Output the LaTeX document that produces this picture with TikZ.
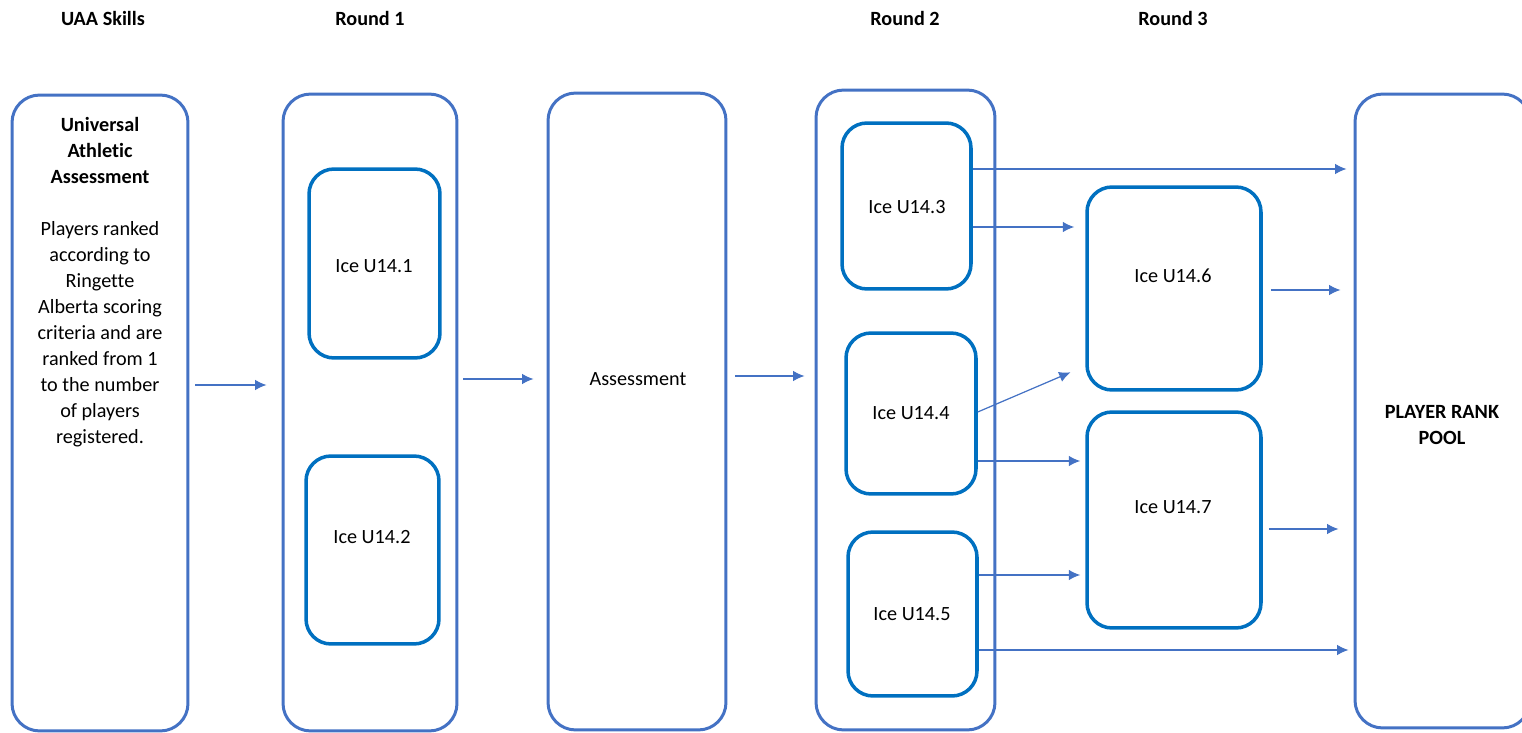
\documentclass[tikz,border=0pt]{standalone}
\usepackage{fontspec}
\setmainfont{Carlito}[Ligatures=CommonOff]
\usetikzlibrary{arrows.meta}
\usetikzlibrary{positioning}
\usetikzlibrary{calc}

\definecolor{stageblue}{HTML}{4472C4}
\definecolor{iceblue}{HTML}{0070C0}

\begin{document}
\begin{tikzpicture}[
      x = 0.02cm, y = -0.02cm,
      >={Latex[length=6.5pt, width=6pt]},
      font = \fontsize{11.5}{14.8}\selectfont,
      stage/.style = {
        rectangle, draw = stageblue, line width = 1.7pt,
        rounded corners = 0.55cm, inner sep = 0
      },
      ice/.style = {
        rectangle, draw = iceblue, line width = 2pt,
        rounded corners = 0.5cm, inner sep = 0
      },
      flow/.style = { draw = stageblue, line width = 0.7pt, -> },
      heading/.style = { font = \fontsize{11.5}{14.8}\selectfont\bfseries },
    ]

    \useasboundingbox (0,0) rectangle (1522,733);

    %% column headings
    \node[heading] (h0) at (103,18) {UAA Skills};
    \node[heading] (h1) at (370,18) {Round 1};
    \node[heading] (h2) at (905,18) {Round 2};
    \node[heading] (h3) at (1173,18) {Round 3};

    %% large stages
    \node[stage, minimum width = 3.52cm, minimum height = 12.72cm] (uaa) at (100,413) {};
    \node[stage, minimum width = 3.48cm, minimum height = 12.74cm] (round1) at (370,412.5) {};
    \node[stage, minimum width = 3.56cm, minimum height = 12.74cm] (assess) at (637,411.5) {};
    \node[stage, minimum width = 3.58cm, minimum height = 12.80cm] (round2) at (905.5,410) {};
    \node[stage, minimum width = 3.50cm, minimum height = 12.68cm] (pool) at (1442.5,411) {};

    \node[align = center, anchor = north] (uaatext) at (100,111) {
      \textbf{Universal}\\ \textbf{Athletic}\\ \textbf{Assessment}\\[14.8pt]
      Players ranked\\ according to\\ Ringette\\ Alberta scoring\\
      criteria and are\\ ranked from 1\\ to the number\\ of players\\ registered.};
    \node (assesstext) at (638,379) {Assessment};
    \node[heading, align = center] (pooltext) at (1442,425) {PLAYER RANK\\ POOL};

    %% ice groups
    \foreach \n/\x/\y/\w/\h in {1/374.5/263.5/2.62/3.78, 2/372.5/550/2.66/3.76,
        3/906.5/206/2.58/3.32, 4/911/413.5/2.60/3.22, 5/912.5/614/2.58/3.28,
        6/1174/288.5/3.48/4.06, 7/1174/520/3.48/4.32} {
      \node[ice, minimum width = \w cm, minimum height = \h cm] (ice\n) at (\x,\y) {};
    }

    \foreach \n/\x/\y in {1/374/266, 2/372/537, 3/907/207, 4/911/413,
        5/912/614, 6/1173/276, 7/1173/507} {
      \node (t\n) at (\x,\y) {Ice U14.\n};
    }

    %% flow between stages
    \draw[flow, shorten <= 0.12cm, shorten >= 0.3cm] (uaa.east |- 0,385) -- (round1.west |- 0,385);
    \draw[flow, shorten <= 0.1cm, shorten >= 0.26cm] (round1.east |- 0,379) -- (assess.west |- 0,379);
    \draw[flow, shorten <= 0.16cm, shorten >= 0.2cm] (assess.east |- 0,376) -- (round2.west |- 0,376);

    %% round 2 to round 3 and pool
    \draw[flow, shorten >= 0.14cm] (ice3.east |- 0,169) -- (pool.west |- 0,169);
    \draw[flow, shorten >= 0.22cm] (ice3.east |- 0,227) -- (ice6.west |- 0,227);
    \draw[flow, shorten >= 0.32cm] (ice4.east |- 0,412) -- (ice6.west |- 0,366);
    \draw[flow, shorten >= 0.1cm] (ice4.east |- 0,461) -- (ice7.west |- 0,461);
    \draw[flow, shorten >= 0.1cm] (ice5.east |- 0,575) -- (ice7.west |- 0,575);
    \draw[flow, shorten >= 0.1cm] (ice5.east |- 0,650) -- (pool.west |- 0,650);

    %% round 3 to pool
    \draw[flow, shorten <= 0.16cm, shorten >= 0.26cm] (ice6.east |- 0,290) -- (pool.west |- 0,290);
    \draw[flow, shorten <= 0.12cm, shorten >= 0.3cm] (ice7.east |- 0,529) -- (pool.west |- 0,529);
  \end{tikzpicture}
\end{document}
